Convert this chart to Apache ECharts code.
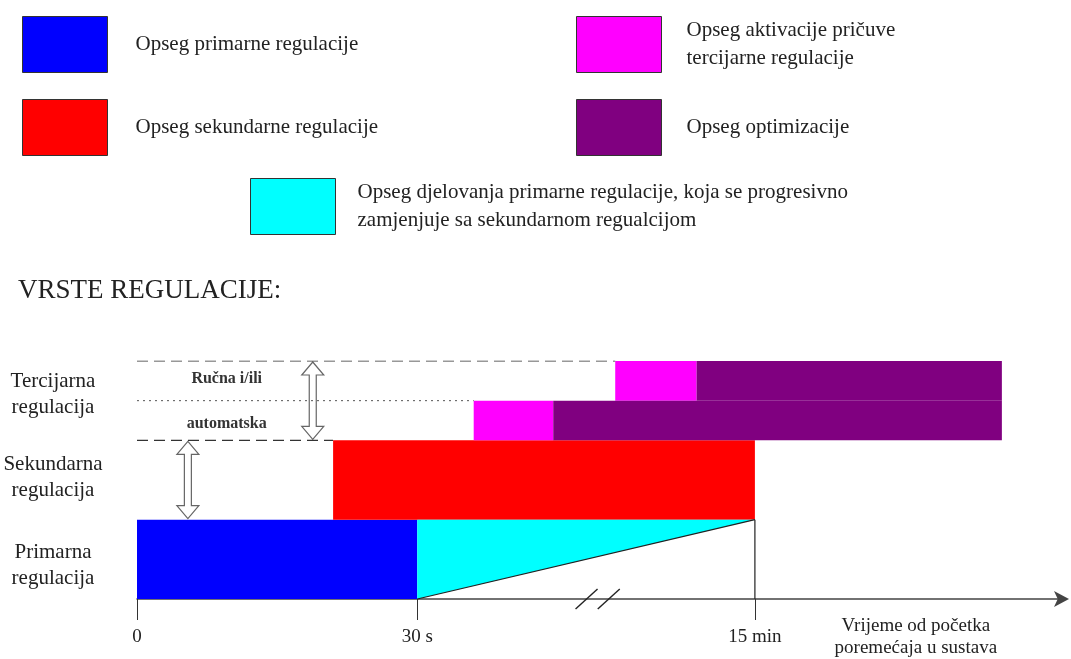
<!DOCTYPE html>
<html>
<head>
<meta charset="utf-8">
<script src="https://cdn.jsdelivr.net/npm/echarts@6/dist/echarts.min.js"></script>
<style>
  html, body { margin: 0; padding: 0; background: #fff; }
  #chart { width: 1071px; height: 659px; }
</style>
</head>
<body>
<div id="chart"></div>
<script>
// vodoravna os je shematska: 0..100, s prekidom izmedu 30 s i 15 min
const tickValues = [0, 30.3, 66.8, 84.2];
const tickLabels = ['0', '30 s', '15 min', 'Vrijeme od početka\nporemećaja u sustava'];

// redovi: 0-1 primarna, 1-2 sekundarna, 2-3 tercijarna
const rowValues = [0.42, 1.53, 2.58];
const rowLabels = ['Primarna\nregulacija', 'Sekundarna\nregulacija', 'Tercijarna\nregulacija'];

// pravokutnici: [x od, x do, y od, y do]
const primaryBars = [[0, 30.3, 0, 1]];
const secondaryBars = [[21.2, 66.8, 1, 2]];
const activationBars = [[36.4, 45.0, 2, 2.5], [51.7, 60.5, 2.5, 3]];
const optimizationBars = [[45.0, 93.5, 2, 2.5], [60.5, 93.5, 2.5, 3]];
// trokut: [x od, x do, y dno, y vrh]
const handoverArea = [[30.3, 66.8, 0, 1]];

// isprekidane crte
const dashTop = [[0, 3], [51.7, 3]];
const dashMid = [[0, 2], [21.2, 2]];
const dotLine = [[0, 2.5], [36.4, 2.5]];
const line15min = [[66.8, 1], [66.8, 0]];

// dvostruke strelice: [x, y od, y do]
const doubleArrows = [[19.0, 2, 3], [5.5, 1, 2]];
// oznaka prekida osi
const breakMarks = [[48.6], [51.0]];
// natpisi u tercijarnom redu
const noteTexts = ['Ručna i/ili', 'automatska'];
const notePos = [[9.7, 2.77], [9.7, 2.21]];

const names = {
  primary: 'Opseg primarne regulacije',
  secondary: 'Opseg sekundarne regulacije',
  activation: 'Opseg aktivacije pričuve\ntercijarne regulacije',
  optimization: 'Opseg optimizacije',
  handover: 'Opseg djelovanja primarne regulacije, koja se progresivno\nzamjenjuje sa sekundarnom regualcijom'
};

const serif = "'Liberation Serif', 'Times New Roman', serif";
const ink = '#222';

const rectItem = (color) => (params, api) => {
  const p0 = api.coord([api.value(0), api.value(3)]);
  const p1 = api.coord([api.value(1), api.value(2)]);
  return {
    type: 'rect',
    shape: { x: p0[0], y: p0[1], width: p1[0] - p0[0], height: p1[1] - p0[1] },
    style: { fill: color }
  };
};

const rectSeries = (name, color, data) => ({
  name: name,
  type: 'custom',
  itemStyle: { color: color },
  encode: { x: [0, 1], y: [2, 3] },
  data: data,
  renderItem: rectItem(color)
});

const legendBase = {
  orient: 'vertical',
  icon: 'rect',
  itemWidth: 85,
  itemHeight: 56,
  itemGap: 26,
  selectedMode: false,
  itemStyle: { borderColor: '#333', borderWidth: 1 },
  textStyle: { fontFamily: serif, fontSize: 21, color: ink, lineHeight: 28, padding: [0, 0, 0, 23] }
};

const myChart = echarts.init(document.getElementById('chart'));

const option = {
  animation: false,
  title: {
    text: 'VRSTE REGULACIJE:',
    left: 13,
    top: 272,
    textStyle: { fontFamily: serif, fontSize: 27, fontWeight: 'normal', color: ink }
  },
  legend: [
    Object.assign({}, legendBase, { left: 17, top: 11, data: [names.primary, names.secondary] }),
    Object.assign({}, legendBase, {
      left: 571, top: 11, data: [names.activation, names.optimization],
      textStyle: Object.assign({}, legendBase.textStyle, { padding: [0, 0, 0, 20] })
    }),
    Object.assign({}, legendBase, {
      left: 245, top: 173, data: [names.handover],
      textStyle: Object.assign({}, legendBase.textStyle, { padding: [0, 0, 0, 17] })
    })
  ],
  grid: { left: 137, right: 9, top: 361, bottom: 57 },
  xAxis: {
    type: 'value',
    min: 0,
    max: 100,
    splitLine: { show: false },
    axisLine: {
      show: true,
      symbol: ['none', 'arrow'],
      symbolSize: [12, 15],
      symbolOffset: [0, 7],
      lineStyle: { color: '#444', width: 1.5 }
    },
    axisTick: { show: true, customValues: tickValues.slice(0, 3), length: 21, lineStyle: { color: '#333' } },
    axisLabel: {
      customValues: tickValues,
      margin: 38,
      verticalAlign: 'middle',
      lineHeight: 22,
      fontFamily: serif,
      fontSize: 19,
      color: ink,
      formatter: (v) => {
        const i = tickValues.findIndex(t => Math.abs(t - v) < 1e-6);
        return i >= 0 ? tickLabels[i] : '';
      }
    }
  },
  yAxis: {
    type: 'value',
    min: 0,
    max: 3,
    splitLine: { show: false },
    axisLine: { show: false },
    axisTick: { show: false },
    axisLabel: {
      customValues: rowValues,
      align: 'center',
      margin: 84,
      lineHeight: 26,
      fontFamily: serif,
      fontSize: 21,
      color: ink,
      formatter: (v) => {
        const i = rowValues.findIndex(t => Math.abs(t - v) < 1e-6);
        return i >= 0 ? rowLabels[i] : '';
      }
    }
  },
  series: [
    rectSeries(names.primary, '#0000ff', primaryBars),
    rectSeries(names.secondary, '#ff0000', secondaryBars),
    rectSeries(names.activation, '#ff00ff', activationBars),
    rectSeries(names.optimization, '#800080', optimizationBars),
    {
      name: names.handover,
      type: 'custom',
      itemStyle: { color: '#00ffff' },
      encode: { x: [0, 1], y: [2, 3] },
      data: handoverArea,
      renderItem: (params, api) => {
        const a = api.coord([api.value(0), api.value(3)]);
        const b = api.coord([api.value(1), api.value(3)]);
        const c = api.coord([api.value(0), api.value(2)]);
        return {
          type: 'group',
          children: [
            { type: 'polygon', shape: { points: [a, b, c] }, style: { fill: '#00ffff' } },
            { type: 'line', shape: { x1: c[0], y1: c[1], x2: b[0], y2: b[1] }, style: { stroke: '#222', lineWidth: 1.2 } }
          ]
        };
      }
    },
    {
      type: 'line', data: dashTop, symbol: 'none', silent: true,
      lineStyle: { color: '#333', width: 1.2, type: [11, 6] }
    },
    {
      type: 'line', data: dashMid, symbol: 'none', silent: true,
      lineStyle: { color: '#333', width: 1.2, type: [11, 6] }
    },
    {
      type: 'line', data: dotLine, symbol: 'none', silent: true,
      lineStyle: { color: '#555', width: 1, type: [2, 4] }
    },
    {
      type: 'line', data: line15min, symbol: 'none', silent: true,
      lineStyle: { color: '#222', width: 1.2 }
    },
    {
      type: 'custom',
      silent: true,
      encode: { x: 0, y: [1, 2] },
      data: doubleArrows,
      renderItem: (params, api) => {
        const t = api.coord([api.value(0), api.value(2)]);
        const b = api.coord([api.value(0), api.value(1)]);
        const cx = t[0], yt = t[1] + 1, yb = b[1] - 1;
        const h = 13, hw = 11, sw = 3.5;
        return {
          type: 'polygon',
          shape: {
            points: [
              [cx, yt], [cx + hw, yt + h], [cx + sw, yt + h], [cx + sw, yb - h], [cx + hw, yb - h],
              [cx, yb], [cx - hw, yb - h], [cx - sw, yb - h], [cx - sw, yt + h], [cx - hw, yt + h]
            ]
          },
          style: { fill: '#fff', stroke: '#666', lineWidth: 1.2 }
        };
      }
    },
    {
      type: 'custom',
      silent: true,
      clip: false,
      encode: { x: 0 },
      data: breakMarks,
      renderItem: (params, api) => {
        const p = api.coord([api.value(0), 0]);
        return {
          type: 'line',
          shape: { x1: p[0] - 11, y1: p[1] + 10, x2: p[0] + 11, y2: p[1] - 10 },
          style: { stroke: '#222', lineWidth: 1.4 }
        };
      }
    },
    {
      type: 'custom',
      silent: true,
      encode: { x: 0, y: 1 },
      data: notePos,
      renderItem: (params, api) => {
        const p = api.coord([api.value(0), api.value(1)]);
        return {
          type: 'text',
          x: p[0], y: p[1],
          style: {
            text: noteTexts[params.dataIndex],
            fontFamily: serif, fontSize: 16, fontWeight: 'bold',
            fill: '#333', align: 'center', verticalAlign: 'middle'
          }
        };
      }
    }
  ]
};
option && myChart.setOption(option);
</script>
</body>
</html>
